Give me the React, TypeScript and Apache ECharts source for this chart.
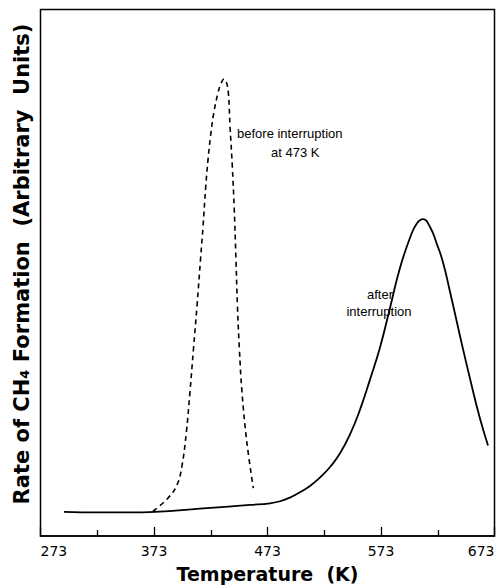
import React, { useEffect, useRef } from 'react';
import * as echarts from 'echarts';

const T0 = 273;
const xTickLabels = ['273', '373', '473', '573', '673'];

// after interruption (solid)
const tempAfter = [293.7, 325.4, 351.9, 373.9, 413.5, 457.6, 475.2, 484.0, 492.8, 501.6, 510.4, 519.2, 528.1, 536.9, 545.7, 554.5, 563.3, 572.1, 580.9, 589.7, 598.5, 604.7, 610.0, 616.2, 622.3, 627.6, 633.8, 642.6, 651.4, 660.2, 667.3];
const rateAfter = [4.6, 4.5, 4.5, 4.6, 5.2, 5.9, 6.2, 6.6, 7.3, 8.3, 9.5, 11.1, 13.1, 15.7, 19.3, 24.0, 29.7, 35.8, 43.3, 50.9, 56.6, 59.4, 60.2, 58.7, 55.4, 52.0, 46.4, 38.0, 29.9, 22.3, 17.2];

// before interruption at 473 K (dashed)
const tempBefore = [372.1, 385.3, 393.3, 397.7, 401.6, 404.7, 407.8, 410.9, 414.0, 416.2, 418.6, 420.6, 422.8, 425.7, 429.4, 431.6, 434.7, 436.9, 438.5, 440.0, 442.0, 443.7, 445.2, 446.5, 448.2, 450.5, 454.7, 460.5];
const rateBefore = [4.7, 7.2, 9.7, 13.4, 19.9, 27.4, 35.6, 43.7, 52.6, 58.8, 66.4, 71.5, 75.9, 80.4, 84.2, 85.7, 86.8, 86.1, 84.2, 77.8, 70.2, 62.1, 52.6, 43.7, 35.6, 27.4, 18.0, 9.1];

const yTitle = 'Rate of CH\u2084 Formation  (Arbitrary  Units)';
const xTitle = 'Temperature  (K)';

export default function App() {
  const ref = useRef<HTMLDivElement>(null);
  useEffect(() => {
    document.body.style.margin = '0';
    const chart = echarts.init(ref.current!, null, { renderer: 'svg' });
    const toPairs = (xs: number[], ys: number[]) => xs.map((t, i) => [t - T0, ys[i]]);
    chart.setOption({
      animation: false,
      backgroundColor: '#fff',
      grid: {
        left: 40.5,
        right: 6.5,
        top: 9.5,
        bottom: 50,
        show: true,
        borderColor: '#000',
        borderWidth: 1.5,
      },
      xAxis: {
        type: 'value',
        min: 0,
        max: 400,
        interval: 100,
        axisLine: { show: true, lineStyle: { color: '#000', width: 1.5 } },
        axisTick: { show: true, inside: true, length: 9, lineStyle: { color: '#000', width: 1.3 } },
        minorTick: { show: true, splitNumber: 2, length: 6, lineStyle: { color: '#000', width: 1.3 } },
        splitLine: { show: false },
        minorSplitLine: { show: false },
        axisLabel: {
          formatter: (v: number) => xTickLabels[Math.round(v / 100)] ?? '',
          fontFamily: 'DejaVu Sans',
          fontSize: 14,
          color: '#000',
          margin: 8,
          alignMinLabel: 'left',
          alignMaxLabel: 'right',
        },
        name: xTitle,
        nameLocation: 'middle',
        nameGap: 28,
        nameTextStyle: { fontFamily: 'DejaVu Sans', fontWeight: 'bold', fontSize: 19, color: '#000' },
      },
      yAxis: {
        type: 'value',
        min: 0,
        max: 100,
        axisLine: { show: false },
        axisTick: { show: false },
        axisLabel: { show: false },
        splitLine: { show: false },
      },
      series: [
        {
          type: 'line',
          data: toPairs(tempAfter, rateAfter),
          smooth: 0.5,
          symbol: 'none',
          lineStyle: { color: '#000', width: 1.8, type: 'solid' },
        },
        {
          type: 'line',
          data: toPairs(tempBefore, rateBefore),
          smooth: 0.4,
          symbol: 'none',
          lineStyle: { color: '#000', width: 1.6, type: [5, 4] },
        },
      ],
      graphic: [
        {
          type: 'text',
          x: 22,
          y: 264,
          rotation: Math.PI / 2,
          style: {
            text: yTitle,
            fontFamily: 'DejaVu Sans',
            fontWeight: 'bold',
            fontSize: 21,
            fill: '#000',
            align: 'center',
            verticalAlign: 'middle',
            textAlign: 'center',
            textVerticalAlign: 'middle',
          },
        },
        {
          type: 'text',
          x: 237,
          y: 133,
          style: { text: 'before interruption', fontFamily: 'Liberation Sans', fontSize: 13, fill: '#000', align: 'left', verticalAlign: 'middle', textAlign: 'left', textVerticalAlign: 'middle' },
        },
        {
          type: 'text',
          x: 271,
          y: 152,
          style: { text: 'at 473 K', fontFamily: 'Liberation Sans', fontSize: 13, fill: '#000', align: 'left', verticalAlign: 'middle', textAlign: 'left', textVerticalAlign: 'middle' },
        },
        {
          type: 'text',
          x: 380,
          y: 294,
          style: { text: 'after', fontFamily: 'Liberation Sans', fontSize: 13, fill: '#000', align: 'center', verticalAlign: 'middle', textAlign: 'center', textVerticalAlign: 'middle' },
        },
        {
          type: 'text',
          x: 379,
          y: 311,
          style: { text: 'interruption', fontFamily: 'Liberation Sans', fontSize: 13, fill: '#000', align: 'center', verticalAlign: 'middle', textAlign: 'center', textVerticalAlign: 'middle' },
        },
      ],
    });
    return () => chart.dispose();
  }, []);
  return <div ref={ref} style={{ width: 501, height: 588 }} />;
}
